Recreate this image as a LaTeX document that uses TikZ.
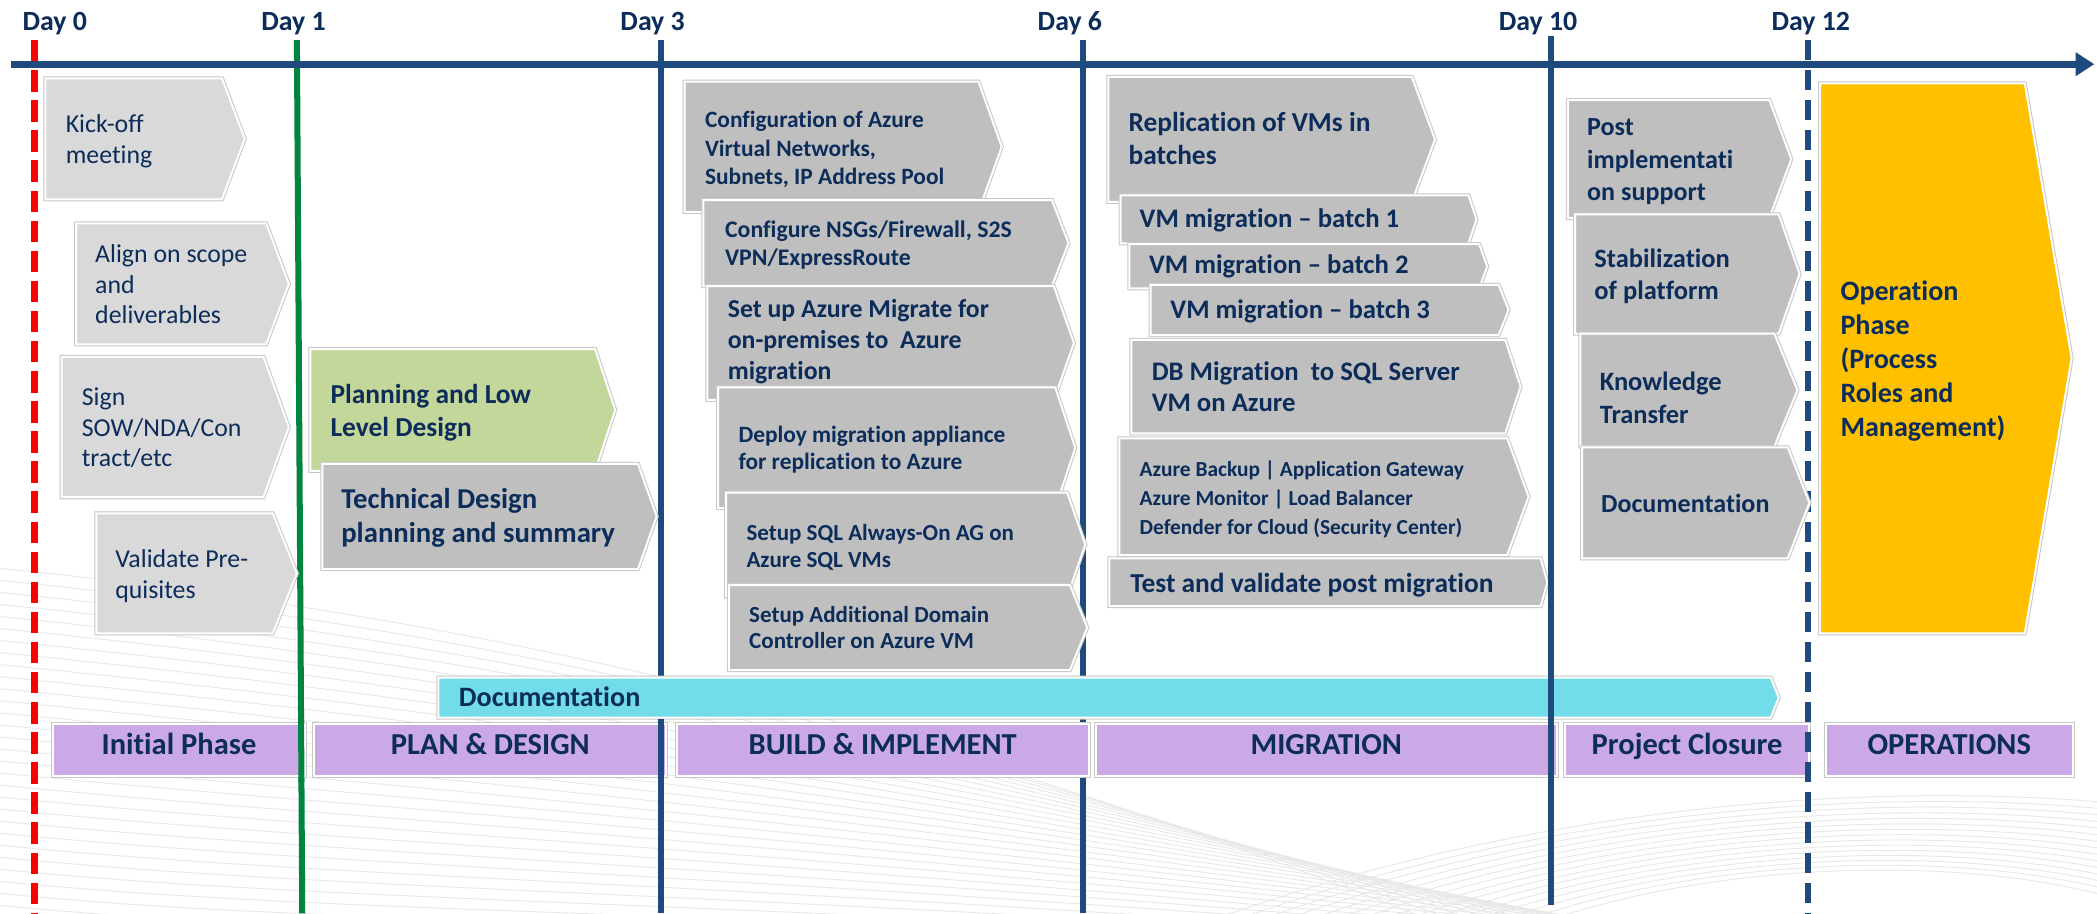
\documentclass[tikz,border=0pt]{standalone}
\usepackage{fontspec}
\setmainfont{Carlito}[Ligatures=NoCommon]
\usetikzlibrary{arrows.meta}
\definecolor{txtblue}{HTML}{0C2C5A}
\definecolor{axisblue}{HTML}{1F4A7E}
\definecolor{redline}{HTML}{FF0000}
\definecolor{greenline}{HTML}{00843F}
\definecolor{lgray}{HTML}{D9D9D9}
\definecolor{mgray}{HTML}{BFBFBF}
\definecolor{lgreen}{HTML}{C4D79B}
\definecolor{cyanbar}{HTML}{72DCE8}
\definecolor{phasepurple}{HTML}{CBA9E7}
\definecolor{opyellow}{HTML}{FFC000}
\newcommand{\chev}[6]{\path[#1] (#2,#3) -- (#4,#3) -- (#5,{(#3+#6)/2}) -- (#4,#6) -- (#2,#6) -- cycle;}
\newcommand{\lead}{\rule{0pt}{0.9em}}
\tikzset{
  shp/.style={fill=#1, draw=white, line width=1.5pt, line join=miter,
    preaction={draw=black!22, line width=3pt, line join=miter}},
  tx/.style={anchor=north west, inner sep=0pt, align=left, text=txtblue},
  daylbl/.style={anchor=base, inner sep=0pt, text=txtblue, font=\fontsize{20.8}{25}\selectfont\bfseries},
  phase/.style={rectangle, fill=phasepurple, draw=white, line width=1.5pt,
    preaction={draw=black!22, line width=3pt}, text=txtblue, inner sep=0pt,
    font=\fontsize{22.8}{27}\selectfont\bfseries, text height=0.63em, text depth=0pt,
    minimum height=39.6pt},
  dayline/.style={draw=axisblue, line width=4.5pt},
  swoosh/.style={draw=black!9, line width=0.7pt}
}
\begin{document}
\begin{tikzpicture}[x=1pt,y=-1pt]
\useasboundingbox (0,0) rectangle (1568,683);
\fill[white] (0,0) rectangle (1568,683);
% background swoosh lines
\foreach \i in {0,...,28}{
  \draw[swoosh] (0,{425+9*\i}) .. controls (300,{455+9*\i}) and (650,{520+6*\i}) .. ({1100+25*\i},{700+2*\i});
}
\foreach \i in {0,...,14}{
  \draw[swoosh] ({900+18*\i},690) .. controls ({1150+10*\i},{600+3*\i}) and ({1400+5*\i},{585+4*\i}) .. (1575,{600+5*\i});
}
% day marker coordinates
\coordinate (l0a) at (26,30);   \coordinate (l0b) at (26,683);
\coordinate (l1a) at (222,30);  \coordinate (l1b) at (226,683);
\coordinate (l3a) at (494,30);  \coordinate (l3b) at (494,683);
\coordinate (l6a) at (810,30);  \coordinate (l6b) at (810,683);
\coordinate (l10a) at (1160,27); \coordinate (l10b) at (1160,677);
\coordinate (l12a) at (1352,30); \coordinate (l12b) at (1352,683);
\coordinate (axa) at (8,48); \coordinate (axb) at (1566,48);
% day lines
\draw[draw=redline, line width=5pt, dash pattern=on 16pt off 6.5pt] (l0a) -- (l0b);
\draw[draw=greenline, line width=4.5pt] (l1a) -- (l1b);
\draw[dayline] (l3a) -- (l3b);
\draw[dayline] (l6a) -- (l6b);
\draw[draw=axisblue, line width=5pt, dash pattern=on 15pt off 7.5pt] (l12a) -- (l12b);
% axis
\draw[draw=axisblue, line width=5pt, -{Triangle[length=14pt,width=17pt]}] (axa) -- (axb);
% day labels
\node[daylbl] (d0) at (41,23) {Day 0};
\node[daylbl] (d1) at (219.5,23) {Day 1};
\node[daylbl] (d3) at (488,23) {Day 3};
\node[daylbl] (d6) at (800,23) {Day 6};
\node[daylbl] (d10) at (1150,23) {Day 10};
\node[daylbl] (d12) at (1354,23) {Day 12};
% initial phase tasks
\chev{shp=lgray}{34}{58.6}{166}{183}{149}
\node[tx, font=\fontsize{19.3}{23}\selectfont] (kick) at (49,81.6) {\lead Kick-off\\meeting};
\chev{shp=lgray}{57}{167}{199}{216}{257.5}
\node[tx, font=\fontsize{19.3}{23}\selectfont] (align) at (71,178.6) {\lead Align on scope\\and\\deliverables};
\chev{shp=lgray}{46}{266.8}{197}{216}{371.8}
\node[tx, font=\fontsize{19.3}{23}\selectfont] (sign) at (61,285.6) {\lead Sign\\SOW/NDA/Con\\tract/etc};
\chev{shp=lgray}{72}{383.8}{204}{222}{473.6}
\node[tx, font=\fontsize{19.3}{23}\selectfont] (valid) at (86,406.9) {\lead Validate Pre-\\quisites};
% plan & design
\chev{shp=lgreen}{232}{261}{445}{460}{352}
\node[tx, font=\fontsize{20.5}{24.5}\selectfont\bfseries] (plan) at (247,283.4) {\lead Planning and Low\\Level Design};
\chev{shp=mgray}{241}{346.8}{477}{491}{425.5}
\node[tx, font=\fontsize{21.5}{26}\selectfont\bfseries] (tech) at (255,360.4) {\lead Technical Design\\planning and summary};
% build & implement
\chev{shp=mgray}{512}{61}{731.6}{749}{158.4}
\node[tx, font=\fontsize{17.5}{21}\selectfont\bfseries] (vnet) at (527,79.75) {\lead Configuration of Azure\\Virtual Networks,\\Subnets, IP Address Pool};
\chev{shp=mgray}{526}{149.6}{786.5}{799}{214}
\node[tx, font=\fontsize{17.8}{20.7}\selectfont\bfseries] (nsg) at (542,161.6) {\lead Configure NSGs/Firewall, S2S\\VPN/ExpressRoute};
\chev{shp=mgray}{529}{214}{788}{803}{299}
\node[tx, font=\fontsize{19.3}{23.3}\selectfont\bfseries] (amig) at (544,219.6) {\lead Set up Azure Migrate for\\on-premises to~ Azure\\migration};
\chev{shp=mgray}{537}{289.6}{789}{804}{380}
\node[tx, font=\fontsize{17.5}{20}\selectfont\bfseries] (appl) at (552,315.15) {\lead Deploy migration appliance\\for replication to Azure};
\chev{shp=mgray}{543}{368.4}{798}{811.5}{446}
\node[tx, font=\fontsize{17.2}{20}\selectfont\bfseries] (sqlag) at (558,388.3) {\lead Setup SQL Always-On AG on\\Azure SQL VMs};
\chev{shp=mgray}{545}{437.5}{800}{813}{501}
\node[tx, font=\fontsize{17.2}{20}\selectfont\bfseries] (adc) at (560,449.5) {\lead Setup Additional Domain\\Controller on Azure VM};
% migration
\chev{shp=mgray}{828.7}{57.4}{1055.6}{1073}{151}
\node[tx, font=\fontsize{20.5}{24.5}\selectfont\bfseries] (repl) at (843.7,80) {\lead Replication of VMs in\\batches};
\chev{shp=mgray}{838}{146}{1098}{1104}{182}
\node[tx, font=\fontsize{20}{24}\selectfont\bfseries] (b1) at (852,152) {\lead VM migration – batch 1};
\chev{shp=mgray}{844.4}{182.5}{1106}{1112}{215.7}
\node[tx, font=\fontsize{20}{24}\selectfont\bfseries] (b2) at (859,186.5) {\lead VM migration – batch 2};
\chev{shp=mgray}{860.4}{213}{1120.5}{1128}{250.5}
\node[tx, font=\fontsize{20}{24}\selectfont\bfseries] (b3) at (875,220) {\lead VM migration – batch 3};
\chev{shp=mgray}{846}{254.2}{1125.5}{1137}{324}
\node[tx, font=\fontsize{20}{23}\selectfont\bfseries] (dbm) at (861,266.6) {\lead DB Migration~ to SQL Server\\VM on Azure};
\chev{shp=mgray}{837}{327.8}{1127}{1143}{415}
\node[tx, font=\fontsize{16}{21.5}\selectfont\bfseries] (svc) at (852,341.9) {\lead Azure Backup | Application Gateway\\Azure Monitor | Load Balancer\\Defender for Cloud (Security Center)};
\chev{shp=mgray}{829.5}{417.5}{1152}{1157}{453.3}
\node[tx, font=\fontsize{20.5}{24}\selectfont\bfseries] (test) at (845,424.2) {\lead Test and validate post migration};
% project closure
\chev{shp=mgray}{1172.3}{74.8}{1323}{1339.4}{163}
\node[tx, font=\fontsize{19.5}{24.5}\selectfont\bfseries] (post) at (1186.6,83.5) {\lead Post\\implementati\\on support};
\chev{shp=mgray}{1177.7}{160.3}{1330}{1345.6}{249.4}
\node[tx, font=\fontsize{19.8}{24.5}\selectfont\bfseries] (stab) at (1192,181.7) {\lead Stabilization\\of platform};
\chev{shp=mgray}{1181.7}{249.4}{1326.7}{1344}{334}
\node[tx, font=\fontsize{19.8}{24.5}\selectfont\bfseries] (kt) at (1196,273.8) {\lead Knowledge\\Transfer};
\chev{shp=mgray}{1183}{334.5}{1336.7}{1353}{417.5}
\node[tx, font=\fontsize{19.5}{24.5}\selectfont\bfseries] (cdoc) at (1197,365.5) {\lead Documentation};
% operations
\chev{shp=opyellow}{1361}{62.3}{1514}{1549}{473.6}
\node[tx, font=\fontsize{21}{25.5}\selectfont\bfseries] (ops) at (1376,205.4) {\lead Operation\\Phase\\(Process\\Roles and\\Management)};
% documentation bar
\chev{shp=cyanbar}{327.7}{506.6}{1324}{1330}{536.6}
\node[tx, font=\fontsize{21}{25}\selectfont\bfseries] (doc) at (343,509.1) {\lead Documentation};
% phases
\node[phase, minimum width=189pt] (ph1) at (133.8,560.8) {Initial Phase};
\node[phase, minimum width=263.3pt] (ph2) at (366.65,560.8) {PLAN \& DESIGN};
\node[phase, minimum width=308pt] (ph3) at (660,560.8) {BUILD \& IMPLEMENT};
\node[phase, minimum width=344.5pt] (ph4) at (991.75,560.8) {MIGRATION};
\node[phase, minimum width=183pt] (ph5) at (1261.5,560.8) {Project Closure};
\node[phase, minimum width=185pt] (ph6) at (1457.5,560.8) {OPERATIONS};
% lines drawn over the phase row
\begin{scope}
\clip (0,538) rectangle (1568,584);
\draw[draw=greenline, line width=4.5pt] (l1a) -- (l1b);
\draw[dayline] (l3a) -- (l3b);
\draw[draw=axisblue, line width=5pt, dash pattern=on 15pt off 7.5pt] (l12a) -- (l12b);
\end{scope}
\draw[dayline] (l10a) -- (l10b);
\end{tikzpicture}
\end{document}
